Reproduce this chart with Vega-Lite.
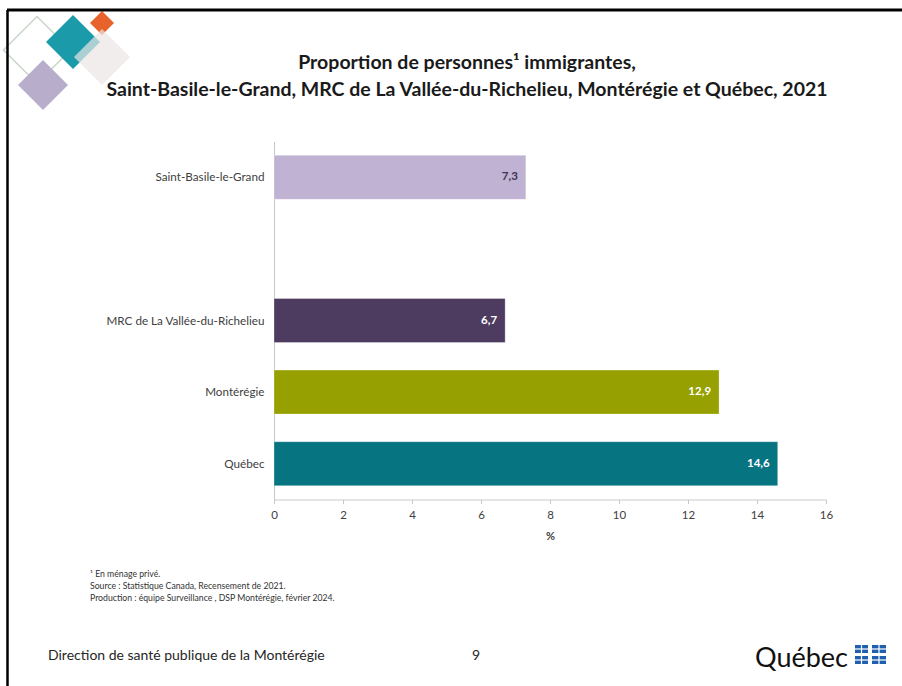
{
  "$schema": "https://vega.github.io/schema/vega-lite/v6.json",
  "autosize": {"type": "none"},
  "width": 552,
  "height": 358,
  "padding": {"left": 274, "top": 141.5, "right": 76, "bottom": 186.5},
  "background": "white",
  "config": {
    "view": {"stroke": null},
    "font": "Lato",
    "locale": {"number": {"decimal": ",", "thousands": " ", "grouping": [3], "currency": ["", " $"]}}
  },
  "data": {
    "values": [
      {"region": "Saint-Basile-le-Grand", "pct": 7.3},
      {"region": "MRC de La Vallée-du-Richelieu", "pct": 6.7},
      {"region": "Montérégie", "pct": 12.9},
      {"region": "Québec", "pct": 14.6}
    ]
  },
  "layer": [
    {
      "mark": {"type": "bar", "stroke": "#ffffff", "strokeOpacity": 0.3, "strokeWidth": 1},
      "encoding": {
        "y": {
          "field": "region", "type": "nominal",
          "scale": {"domain": ["Saint-Basile-le-Grand", " ", "MRC de La Vallée-du-Richelieu", "Montérégie", "Québec"], "paddingInner": 0.385, "paddingOuter": 0.1925},
          "axis": {"title": null, "ticks": false, "labelPadding": 10, "labelFontSize": 11.7, "labelColor": "#404040", "domainColor": "#c8c8c8"}
        },
        "x": {
          "field": "pct", "type": "quantitative",
          "scale": {"domain": [0, 16], "nice": false},
          "axis": {"values": [0, 2, 4, 6, 8, 10, 12, 14, 16], "grid": false, "title": "%", "titleFontWeight": "bold", "titleFontSize": 11, "titleColor": "#404040", "titlePadding": 9, "labelFontSize": 11.5, "labelColor": "#404040", "tickColor": "#c8c8c8", "tickSize": 4, "domainColor": "#c8c8c8", "labelPadding": 6, "labelFlush": false, "labelOverlap": false, "format": "d"}
        },
        "color": {
          "field": "region", "type": "nominal", "legend": null,
          "scale": {"domain": ["Saint-Basile-le-Grand", "MRC de La Vallée-du-Richelieu", "Montérégie", "Québec"], "range": ["#C0B2D2", "#4D3C5F", "#96A000", "#077482"]}
        }
      }
    },
    {
      "mark": {"type": "text", "align": "right", "baseline": "middle", "dx": -8, "fontWeight": "bold", "fontSize": 11.5},
      "encoding": {
        "y": {"field": "region", "type": "nominal"},
        "x": {"field": "pct", "type": "quantitative"},
        "text": {"field": "pct", "type": "quantitative", "format": ".1f"},
        "color": {"condition": {"test": "datum.region === 'Saint-Basile-le-Grand'", "value": "#3d3552"}, "value": "#ffffff"}
      }
    },
    {
      "data": {"values": [{}]},
      "mark": {"type": "text", "align": "center", "baseline": "alphabetic", "fontWeight": "bold", "fontSize": 19.5, "lineHeight": 27, "color": "#1a1a1a"},
      "encoding": {
        "x": {"value": 193},
        "y": {"value": -72.5},
        "text": {"value": ["Proportion de personnes¹ immigrantes,", "Saint-Basile-le-Grand, MRC de La Vallée-du-Richelieu, Montérégie et Québec, 2021"]}
      }
    },
    {
      "data": {"values": [{}]},
      "mark": {"type": "text", "align": "left", "baseline": "middle", "fontSize": 8.7, "lineHeight": 12, "color": "#333333"},
      "encoding": {
        "x": {"value": -184},
        "y": {"value": 432.5},
        "text": {"value": ["¹ En ménage privé.", "Source : Statistique Canada, Recensement de 2021.", "Production : équipe Surveillance , DSP Montérégie, février 2024."]}
      }
    },
    {
      "data": {"values": [{}]},
      "mark": {"type": "text", "align": "left", "baseline": "middle", "fontSize": 14, "color": "#262626"},
      "encoding": {"x": {"value": -226}, "y": {"value": 514.5}, "text": {"value": "Direction de santé publique de la Montérégie"}}
    },
    {
      "data": {"values": [{}]},
      "mark": {"type": "text", "align": "center", "baseline": "middle", "fontSize": 14, "color": "#262626"},
      "encoding": {"x": {"value": 202}, "y": {"value": 514.5}, "text": {"value": "9"}}
    },
    {
      "data": {"values": [{}]},
      "mark": {"type": "text", "align": "left", "baseline": "alphabetic", "fontSize": 27, "color": "#111111"},
      "encoding": {"x": {"value": 481}, "y": {"value": 525}, "text": {"value": "Québec"}}
    },
    {
      "data": {"values": [{}]},
      "mark": {"type": "rect", "color": "#1f5fae"},
      "encoding": {"x": {"value": 581}, "x2": {"value": 594}, "y": {"value": 503.5}, "y2": {"value": 511.5}}
    },
    {
      "data": {"values": [{}]},
      "mark": {"type": "rect", "color": "#1f5fae"},
      "encoding": {"x": {"value": 598}, "x2": {"value": 612}, "y": {"value": 503.5}, "y2": {"value": 511.5}}
    },
    {
      "data": {"values": [{}]},
      "mark": {"type": "rect", "color": "#1f5fae"},
      "encoding": {"x": {"value": 581}, "x2": {"value": 594}, "y": {"value": 514.5}, "y2": {"value": 522.5}}
    },
    {
      "data": {"values": [{}]},
      "mark": {"type": "rect", "color": "#1f5fae"},
      "encoding": {"x": {"value": 598}, "x2": {"value": 612}, "y": {"value": 514.5}, "y2": {"value": 522.5}}
    },
    {
      "data": {"values": [{}]},
      "mark": {"type": "rule", "color": "#ffffff", "strokeWidth": 1.2},
      "encoding": {"x": {"value": 581}, "x2": {"value": 612}, "y": {"value": 507.5}, "y2": {"value": 507.5}}
    },
    {
      "data": {"values": [{}]},
      "mark": {"type": "rule", "color": "#ffffff", "strokeWidth": 1.2},
      "encoding": {"x": {"value": 581}, "x2": {"value": 612}, "y": {"value": 518.5}, "y2": {"value": 518.5}}
    },
    {
      "data": {"values": [{}]},
      "mark": {"type": "rule", "color": "#ffffff", "strokeWidth": 1.2},
      "encoding": {"x": {"value": 587.5}, "x2": {"value": 587.5}, "y": {"value": 503.5}, "y2": {"value": 522.5}}
    },
    {
      "data": {"values": [{}]},
      "mark": {"type": "rule", "color": "#ffffff", "strokeWidth": 1.2},
      "encoding": {"x": {"value": 605}, "x2": {"value": 605}, "y": {"value": 503.5}, "y2": {"value": 522.5}}
    },
    {
      "data": {"values": [{}]},
      "mark": {"type": "point", "shape": "diamond", "filled": false, "stroke": "#c9d6c8", "strokeWidth": 1.5, "opacity": 1},
      "encoding": {"x": {"value": -237}, "y": {"value": -91.5}, "size": {"value": 4500}}
    },
    {
      "data": {"values": [{}]},
      "mark": {"type": "point", "shape": "diamond", "filled": true, "color": "#B8AECB", "opacity": 1},
      "encoding": {"x": {"value": -231}, "y": {"value": -56.5}, "size": {"value": 2500}}
    },
    {
      "data": {"values": [{}]},
      "mark": {"type": "point", "shape": "diamond", "filled": true, "color": "#1B9AAA", "opacity": 1},
      "encoding": {"x": {"value": -201}, "y": {"value": -99.5}, "size": {"value": 2916}}
    },
    {
      "data": {"values": [{}]},
      "mark": {"type": "point", "shape": "diamond", "filled": true, "color": "#E8632B", "opacity": 1},
      "encoding": {"x": {"value": -172}, "y": {"value": -118.5}, "size": {"value": 576}}
    },
    {
      "data": {"values": [{}]},
      "mark": {"type": "point", "shape": "diamond", "filled": true, "color": "#EAE6E4", "opacity": 0.7},
      "encoding": {"x": {"value": -172}, "y": {"value": -84.5}, "size": {"value": 3136}}
    },
    {
      "data": {"values": [{}]},
      "mark": {"type": "rule", "color": "#000000", "strokeWidth": 3},
      "encoding": {"x": {"value": -267}, "x2": {"value": 628}, "y": {"value": -131.5}, "y2": {"value": -131.5}}
    },
    {
      "data": {"values": [{}]},
      "mark": {"type": "rule", "color": "#000000", "strokeWidth": 2.5},
      "encoding": {"x": {"value": -266.5}, "x2": {"value": -266.5}, "y": {"value": -131.5}, "y2": {"value": 544.5}}
    }
  ]
}
